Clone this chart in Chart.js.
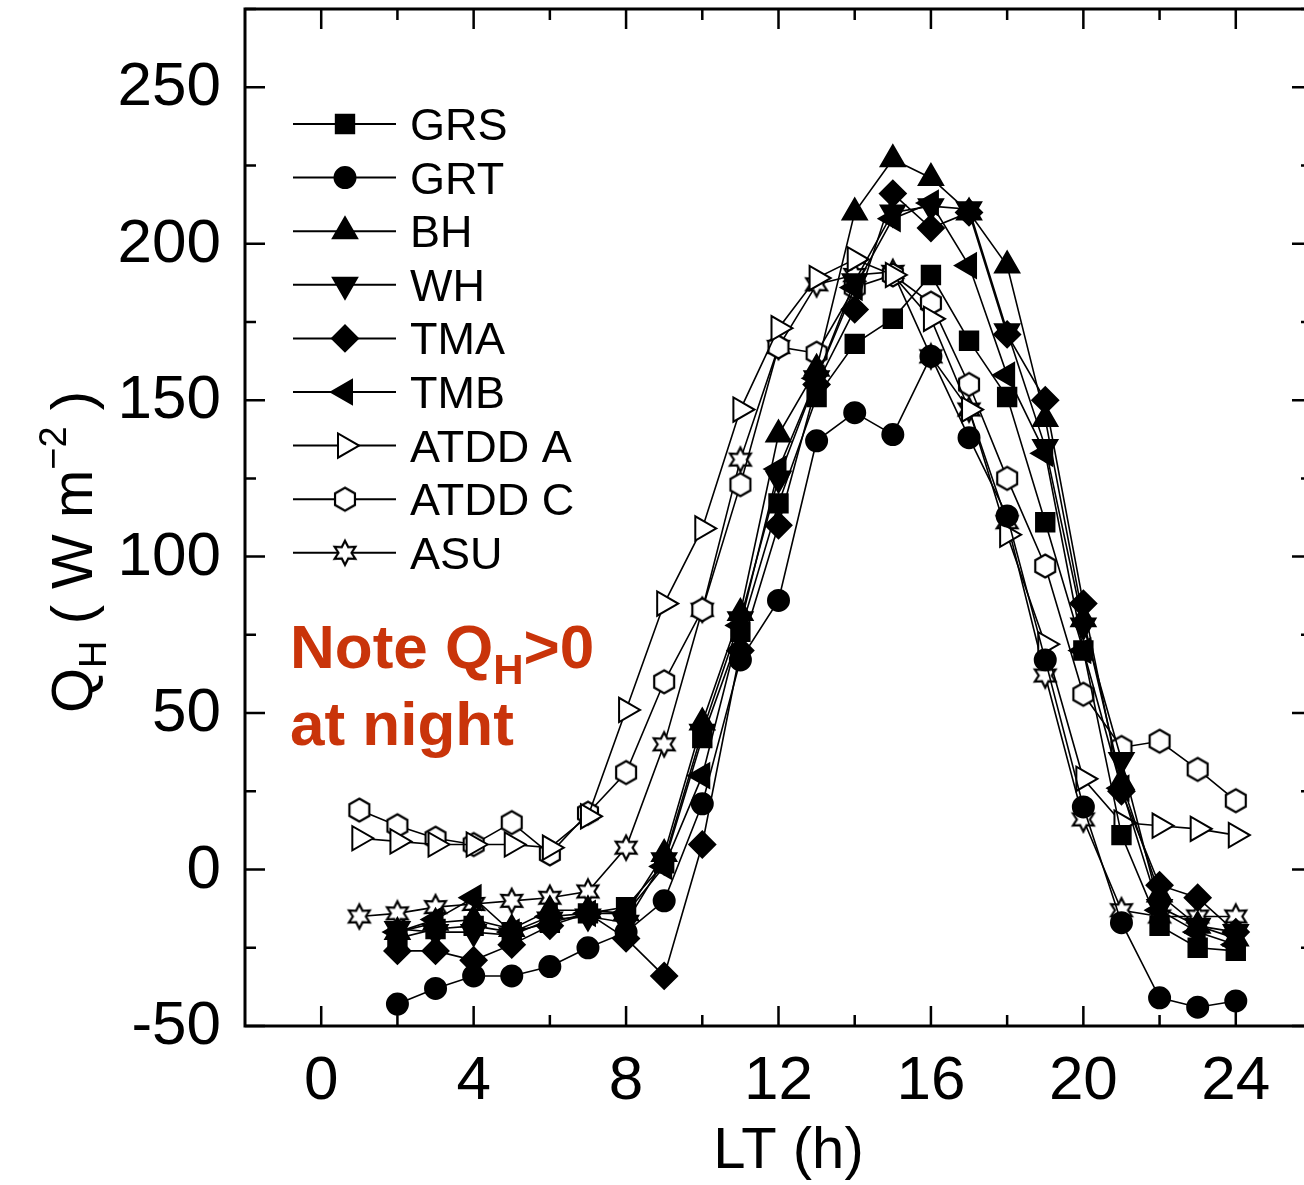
<!DOCTYPE html>
<html>
<head>
<meta charset="utf-8">
<script src="https://cdn.jsdelivr.net/npm/chart.js@4.4.1/dist/chart.umd.min.js"></script>
<style>
  html, body { margin: 0; padding: 0; background: #fff; overflow: hidden; width: 1304px; height: 1185px; }
  #wrap { position: absolute; left: 0; top: 0; width: 1320px; height: 1185px; }
</style>
</head>
<body>
<div id="wrap"><canvas id="c" width="1320" height="1185"></canvas></div>
<script>
// ---- data ----
const hours = [1,2,3,4,5,6,7,8,9,10,11,12,13,14,15,16,17,18,19,20,21,22,23,24];
const GRS   = [null,-22,-19,-18,-20,-17,-14,-12,  2, 42, 76,117,151,168,176,190,169,151,111, 70, 11,-18,-25,-26];
const GRT   = [null,-43,-38,-34,-34,-31,-25,-20,-10, 21, 67, 86,137,146,139,164,138,113, 67, 20,-17,-41,-44,-42];
const BH    = [null,-20,-17,-16,-19,-13,-13,-14,  5, 47, 82,139,160,210,227,221,210,193,144, 80, 28, -8,-18,-22];
const WH    = [null,-19,-20,-20,-21,-16,-15,-17,  3, 44, 80,125,157,188,210,212,211,172,135, 78, 35,-12,-18,-20];
const TMA   = [null,-26,-26,-29,-24,-18,-14,-22,-34,  8, 70,110,155,179,216,205,210,171,150, 85, 25, -5, -9,-20];
const TMB   = [null,-20,-16, -9,-20,-15,-14,-14,  1, 30, 78,128,157,186,208,213,193,158,133, 70, 26,-13,-20,-24];
const ATDDA = [ 10,  9,  8,  8,  8,  7, 17, 51, 85,109,147,173,189,195,190,176,147,107, 72, 29, 15, 14, 13, 11];
const ATDDC = [ 19, 14, 10,  8, 15,  5, 18, 31, 60, 83,123,167,165,186,190,181,155,125, 97, 56, 39, 41, 32, 22];
const ASU   = [-15,-14,-12,-11,-10, -9, -7,  7, 40, 83,131,167,187,190,191,164,147,111, 62, 16,-13,-15,-15,-15];
const seriesNames = ['GRS','GRT','BH','WH','TMA','TMB','ATDD A','ATDD C','ASU'];
const seriesValues = [GRS, GRT, BH, WH, TMA, TMB, ATDDA, ATDDC, ASU];
const xTickLabels = [0,4,8,12,16,20,24];
const yTickLabels = [-50,0,50,100,150,200,250];
const xMin = -2, xMax = 26, yMin = -50, yMax = 275;

// ---- custom marker images ----
function makeMarker(kind) {
  const c = document.createElement('canvas');
  c.width = 30; c.height = 30;
  const g = c.getContext('2d');
  g.translate(15, 15);
  g.beginPath();
  if (kind === 'hex') {
    const r = 11.5;
    for (let i = 0; i < 6; i++) {
      const a = -Math.PI / 2 + i * Math.PI / 3;
      const px = r * Math.cos(a), py = r * Math.sin(a);
      if (i === 0) g.moveTo(px, py); else g.lineTo(px, py);
    }
  } else {
    const ro = 12, ri = 6.5;
    for (let i = 0; i < 12; i++) {
      const a = -Math.PI / 2 + i * Math.PI / 6;
      const r = i % 2 === 0 ? ro : ri;
      const px = r * Math.cos(a), py = r * Math.sin(a);
      if (i === 0) g.moveTo(px, py); else g.lineTo(px, py);
    }
  }
  g.closePath();
  g.fillStyle = '#fff';
  g.fill();
  g.lineWidth = 2.2;
  g.strokeStyle = '#000';
  g.stroke();
  return c;
}
const hexImg = makeMarker('hex');
const starImg = makeMarker('star');

const styles = [
  { pointStyle: 'rect', radius: 13, rotation: 0, fill: '#000' },
  { pointStyle: 'circle', radius: 10.5, rotation: 0, fill: '#000' },
  { pointStyle: 'triangle', radius: 14, rotation: 0, fill: '#000' },
  { pointStyle: 'triangle', radius: 14, rotation: 180, fill: '#000' },
  { pointStyle: 'rectRot', radius: 13, rotation: 0, fill: '#000' },
  { pointStyle: 'triangle', radius: 14, rotation: 270, fill: '#000' },
  { pointStyle: 'triangle', radius: 14, rotation: 90, fill: '#fff' },
  { pointStyle: hexImg, radius: 12, rotation: 0, fill: '#fff' },
  { pointStyle: starImg, radius: 12, rotation: 0, fill: '#fff' }
];

const datasets = seriesNames.map((name, k) => ({
  label: name,
  data: hours.map((h, i) => ({ x: h, y: seriesValues[k][i] })).filter(p => p.y !== null),
  showLine: true,
  borderColor: '#000',
  borderWidth: 1.6,
  pointStyle: styles[k].pointStyle,
  pointRadius: styles[k].radius,
  pointRotation: styles[k].rotation,
  pointBackgroundColor: styles[k].fill,
  pointBorderColor: '#000',
  pointBorderWidth: 2,
  fill: false,
  tension: 0
}));

const FONT = '"Liberation Sans", Arial, Helvetica, sans-serif';

const decor = {
  id: 'decor',
  afterDraw(chart) {
    const ctx = chart.ctx, ca = chart.chartArea;
    const xs = chart.scales.x, ys = chart.scales.y;
    ctx.save();
    ctx.strokeStyle = '#000';
    // frame
    ctx.lineWidth = 3;
    ctx.strokeRect(ca.left, ca.top, ca.right - ca.left, ca.bottom - ca.top);
    // x ticks (every 2 h, major at labels)
    ctx.lineWidth = 2.5;
    for (let v = 0; v <= 24; v += 2) {
      const px = xs.getPixelForValue(v);
      const len = xTickLabels.includes(v) ? 20 : 11;
      ctx.beginPath();
      ctx.moveTo(px, ca.bottom); ctx.lineTo(px, ca.bottom - len);
      ctx.moveTo(px, ca.top); ctx.lineTo(px, ca.top + len);
      ctx.stroke();
    }
    // y ticks (every 25, major at labels)
    for (let v = yMin; v <= yMax; v += 25) {
      const py = ys.getPixelForValue(v);
      const len = yTickLabels.includes(v) ? 20 : 11;
      ctx.beginPath();
      ctx.moveTo(ca.left, py); ctx.lineTo(ca.left + len, py);
      ctx.moveTo(ca.right, py); ctx.lineTo(ca.right - len, py);
      ctx.stroke();
    }
    // tick labels
    ctx.fillStyle = '#000';
    ctx.font = '62px ' + FONT;
    ctx.textAlign = 'right';
    ctx.textBaseline = 'middle';
    yTickLabels.forEach(v => ctx.fillText(String(v), ca.left - 24, ys.getPixelForValue(v) + 1));
    ctx.textAlign = 'center';
    ctx.textBaseline = 'alphabetic';
    xTickLabels.forEach(v => ctx.fillText(String(v), xs.getPixelForValue(v), 1099));
    // legend
    const legY0 = 124, legDy = 53.6;
    chart.data.datasets.forEach((ds, k) => {
      const y = legY0 + k * legDy;
      ctx.strokeStyle = '#000';
      ctx.lineWidth = 2;
      ctx.beginPath(); ctx.moveTo(293, y); ctx.lineTo(396, y); ctx.stroke();
      const ps = styles[k];
      ctx.fillStyle = ps.fill;
      ctx.lineWidth = 2;
      Chart.helpers.drawPoint(ctx, {
        pointStyle: ps.pointStyle, radius: ps.radius, rotation: ps.rotation, borderWidth: 2
      }, 345, y);
      ctx.fillStyle = '#000';
      ctx.font = '45px ' + FONT;
      ctx.textAlign = 'left';
      ctx.fillText(ds.label, 410, y + 16);
    });
    // x axis title
    ctx.fillStyle = '#000';
    ctx.font = '58px ' + FONT;
    ctx.textAlign = 'center';
    ctx.fillText('LT (h)', xs.getPixelForValue(12) + 10, 1168);
    // y axis title (rotated) : Q_H ( W m^-2 )
    ctx.save();
    ctx.translate(92, 552);
    ctx.rotate(-Math.PI / 2);
    ctx.textAlign = 'left';
    const big = '58px ' + FONT, small = '38px ' + FONT;
    const parts = [
      { t: 'Q', f: big, dy: 0 },
      { t: 'H', f: small, dy: 14 },
      { t: ' ( W m', f: big, dy: 0 },
      { t: '\u22122', f: small, dy: -26 },
      { t: ' )', f: big, dy: 0 }
    ];
    let total = 0;
    parts.forEach(p => { ctx.font = p.f; p.w = ctx.measureText(p.t).width; total += p.w; });
    let cx = -total / 2;
    parts.forEach(p => { ctx.font = p.f; ctx.fillText(p.t, cx, p.dy); cx += p.w; });
    ctx.restore();
    // annotation
    ctx.fillStyle = '#c9340a';
    ctx.textAlign = 'left';
    const nb = 'bold 62px ' + FONT, ns = 'bold 42px ' + FONT;
    let nx = 290;
    ctx.font = nb; ctx.fillText('Note Q', nx, 668); nx += ctx.measureText('Note Q').width;
    ctx.font = ns; ctx.fillText('H', nx, 684); nx += ctx.measureText('H').width;
    ctx.font = nb; ctx.fillText('>0', nx, 668);
    ctx.fillText('at night', 290, 745);
    ctx.restore();
  }
};

new Chart(document.getElementById('c'), {
  type: 'scatter',
  data: { datasets },
  options: {
    responsive: false,
    devicePixelRatio: 1,
    animation: false,
    layout: { autoPadding: false, padding: { top: 9, right: 8, left: 0, bottom: 0 } },
    plugins: { legend: { display: false }, tooltip: { enabled: false } },
    scales: {
      x: {
        type: 'linear', min: xMin, max: xMax,
        grid: { display: false, drawTicks: false },
        border: { display: false },
        afterBuildTicks: s => { s.ticks = xTickLabels.map(v => ({ value: v })); },
        afterFit: s => { s.height = 159; },
        ticks: { display: false }
      },
      y: {
        type: 'linear', min: yMin, max: yMax,
        grid: { display: false, drawTicks: false },
        border: { display: false },
        afterBuildTicks: s => { s.ticks = yTickLabels.map(v => ({ value: v })); },
        afterFit: s => { s.width = 245; },
        ticks: { display: false }
      }
    }
  },
  plugins: [decor]
});
</script>
</body>
</html>
